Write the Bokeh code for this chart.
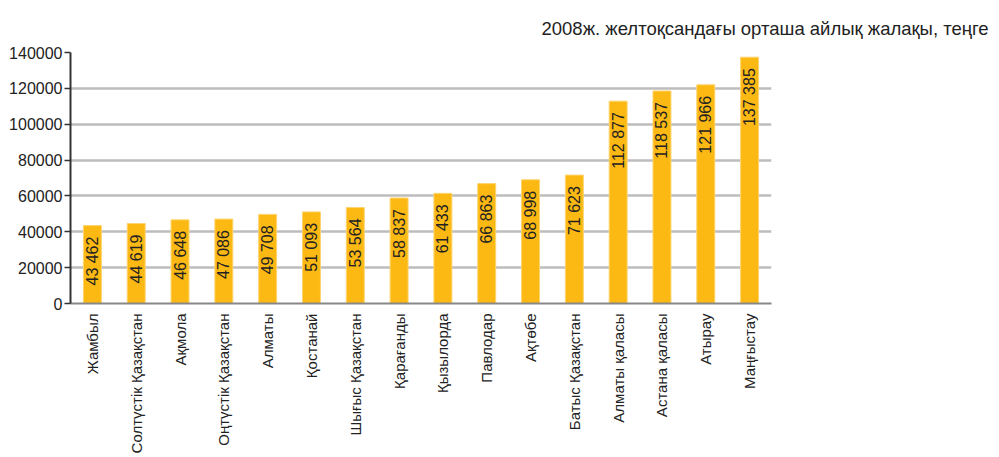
from bokeh.plotting import figure
from bokeh.models import ColumnDataSource, FixedTicker, Title, NumeralTickFormatter
from bokeh.core.properties import value
from bokeh.embed import file_html
from bokeh.resources import INLINE
import math

regions = ["Жамбыл", "Солтүстік Қазақстан", "Ақмола", "Оңтүстік Қазақстан", "Алматы",
           "Қостанай", "Шығыс Қазақстан", "Қарағанды", "Қызылорда", "Павлодар", "Ақтөбе",
           "Батыс Қазақстан", "Алматы қаласы", "Астана қаласы", "Атырау", "Маңғыстау"]
wages = [43462, 44619, 46648, 47086, 49708, 51093, 53564, 58837, 61433, 66863, 68998,
         71623, 112877, 118537, 121966, 137385]
wage_labels = ["43 462", "44 619", "46 648", "47 086", "49 708", "51 093", "53 564", "58 837",
               "61 433", "66 863", "68 998", "71 623", "112 877", "118 537", "121 966", "137 385"]
y_ticks = [0, 20000, 40000, 60000, 80000, 100000, 120000, 140000]
title_text = "2008ж. желтоқсандағы орташа айлық жалақы, теңге"

FONT = "Liberation Sans"

src = ColumnDataSource(dict(region=regions, wage=wages, label=wage_labels))

p = figure(x_range=regions, y_range=(0, 140000), width=999, height=457,
           output_backend="svg", toolbar_location=None,
           min_border_left=70, min_border_right=228, min_border_top=52, min_border_bottom=154)

p.vbar(x="region", top="wage", width=0.41, source=src,
       fill_color="#FDB913", line_color="#FDD46E", line_width=1)

p.text(x="region", y="wage", text="label", source=src, angle=math.pi / 2,
       text_align="right", text_baseline="middle", y_offset=11,
       text_font=value(FONT), text_font_size="16px", text_color="#222222")

p.outline_line_color = None
p.xgrid.grid_line_color = None
p.ygrid.grid_line_color = "#BDBDBD"
p.ygrid.grid_line_width = 2.5
p.ygrid.ticker = FixedTicker(ticks=y_ticks)

p.yaxis.ticker = FixedTicker(ticks=y_ticks)
p.yaxis.formatter = NumeralTickFormatter(format="0")
p.yaxis.axis_line_color = "#333333"
p.yaxis.axis_line_width = 2
p.yaxis.major_tick_line_color = "#333333"
p.yaxis.major_tick_line_width = 1.5
p.yaxis.major_tick_out = 6
p.yaxis.major_tick_in = 0
p.yaxis.minor_tick_line_color = None
p.yaxis.major_label_text_font = FONT
p.yaxis.major_label_text_font_size = "16px"
p.yaxis.major_label_text_color = "#222222"
p.yaxis.major_label_standoff = 2

p.xaxis.axis_line_color = "#888888"
p.xaxis.axis_line_width = 2
p.xaxis.major_tick_line_color = None
p.xaxis.major_label_orientation = math.pi / 2
p.xaxis.major_label_text_font = FONT
p.xaxis.major_label_text_font_size = "15px"
p.xaxis.major_label_text_color = "#222222"
p.xaxis.major_label_standoff = 4

t = Title(text=title_text, align="left", offset=471, standoff=28, text_font=FONT,
          text_font_size="18.5px", text_font_style="normal", text_color="#222222")
p.add_layout(t, "above")

open("out.html", "w").write(file_html(p, INLINE))
